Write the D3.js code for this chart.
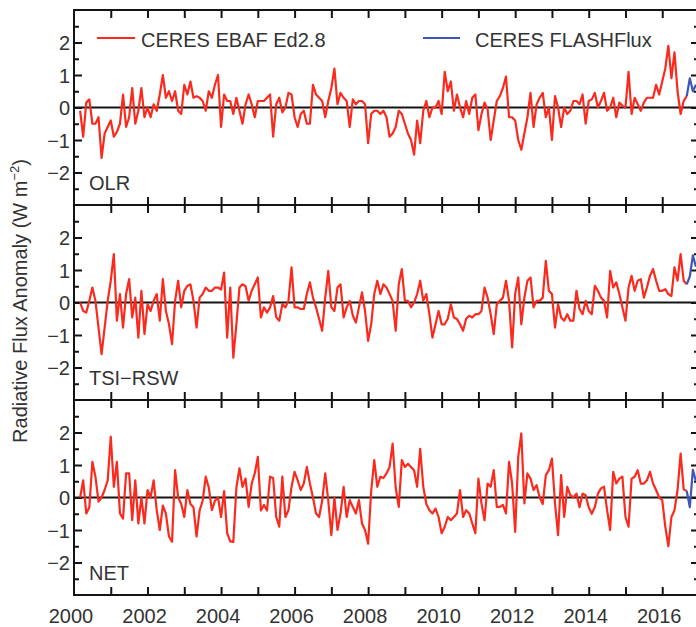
<!DOCTYPE html>
<html><head><meta charset="utf-8">
<script src="https://cdn.jsdelivr.net/npm/d3@7"></script>
<style>
body{margin:0;background:#fff}
svg{display:block}
text{font-family:"Liberation Sans",Arial,Helvetica,sans-serif;fill:#333}
</style>
</head><body>
<svg id="chart" width="696" height="627"></svg>
<script>
// ---- data (monthly anomalies, W m-2) ----
const startYear = 2000;
const ebafStartMonth = 2;      // March 2000 (months counted from Jan 2000)
const flashStartMonth = 200;   // Sept 2016
const panelNames = ["OLR", "TSI\u2212RSW", "NET"];
const seriesNames = ["CERES EBAF Ed2.8", "CERES FLASHFlux"];

const olrEbaf = [
 -0.1,-0.9,0.15,0.25,-0.5,-0.5,-0.3,-1.55,-0.8,-0.6,-0.4,-0.9,-0.75,-0.5,0.4,-0.6,-0.3,0.6,-0.5,-0.1,
 0.6,-0.3,0.0,-0.3,0.1,-0.1,0.4,1.0,0.3,0.5,0.2,0.5,-0.1,-0.2,0.7,0.4,0.8,0.3,0.35,0.3,
 0.2,-0.1,0.5,0.3,0.7,1.0,-0.6,0.4,0.2,0.2,-0.2,0.3,
 -0.1,-0.5,0.1,0.4,0.1,-0.3,0.2,0.2,0.2,0.3,0.4,-0.9,0.1,0.3,-0.15,0.0,0.45,0.4,-0.3,-0.6,
 -0.2,-0.1,-0.5,-0.5,0.7,0.4,0.3,0.2,-0.3,0.2,0.6,1.2,0.1,0.45,0.3,0.2,-0.6,0.25,0.1,0.2,
 0.2,0.1,-1.1,-0.2,-0.1,-0.1,-0.2,-0.1,-0.3,-0.9,-0.8,-0.6,-0.1,-0.2,-0.5,-0.8,-1.0,-1.45,-0.4,-1.1,
 -0.1,0.2,-0.3,0.0,0.0,0.2,-0.2,1.1,0.5,0.8,-0.1,0.4,
 0.0,-0.3,0.2,-0.2,0.3,0.4,-0.7,-0.2,0.15,-0.05,-1.0,-0.4,0.2,0.35,0.6,0.95,-0.3,-0.3,-0.4,-1.0,
 -1.3,-0.8,-0.3,0.45,-0.6,0.1,0.3,0.45,-0.3,0.0,-1.0,0.35,0.0,-0.6,0.0,-0.2,-0.1,0.2,0.2,0.1,
 0.4,-0.5,0.2,0.25,0.45,0.0,0.2,0.45,-0.1,0.0,0.3,-0.3,0.15,0.05,0.0,1.1,-0.2,0.3,0.1,-0.1,
 0.15,0.3,0.3,0.3,0.7,0.4,0.8,1.2,1.9,0.9,1.7,0.5,-0.2,0.2,0.35
];
const tsiEbaf = [
 0,-0.26,-0.31,0.05,0.46,0.05,-0.77,-1.59,-0.77,0.05,0.67,1.49,-0.56,0.26,-0.77,0.26,0.72,-0.46,0.15,-1.08,
 0.36,-0.97,-0.05,-0.26,0.05,0.26,-0.56,0.72,-0.26,-0.67,-1.28,0.05,0.67,-0.15,0.36,0.51,0.56,0.05,-0.77,0.15,
 0.26,0.46,0.36,0.36,0.46,0.46,0.4,0.92,-1.08,0.46,-1.7,-0.67,
 0.46,0.56,0.5,0.05,0.36,0.56,0.77,-0.46,-0.15,-0.31,-0.15,0.2,-0.45,-0.56,-0.05,-0.15,0.05,1.08,-0.15,-0.15,
 -0.2,-0.2,0.26,0.62,0.15,-0.15,-0.51,-0.87,0.15,0.97,-0.15,-0.26,0.46,0.56,-0.46,-0.15,0.05,-0.4,-0.62,-0.15,
 0.31,-0.26,-1.18,-0.67,0.26,0.67,0.26,0.56,0.46,0.26,0.05,-0.87,0.56,1.03,0.05,0.05,-0.15,0.0,0.26,0.67,
 0.05,0.26,-0.36,-1.08,-0.67,-0.26,-0.67,-0.67,-0.5,-0.05,-0.46,-0.51,-0.67,-0.87,-0.5,
 -0.41,-0.46,-0.36,-0.36,-0.26,0.46,0.15,-0.36,-0.97,-0.05,0.05,0.15,0.67,0.05,-1.38,0.26,0.77,-0.67,0.15,0.67,
 0.77,-0.15,0.05,0.05,0.15,1.28,0.36,0.26,-0.77,-0.05,-0.46,-0.56,-0.36,-0.56,-0.56,0.36,-0.2,-0.36,0.05,-0.26,
 -0.36,0.51,0.36,0.15,0.05,-0.46,0.97,0.46,0.62,0.26,-0.15,-0.56,0.46,0.82,0.36,0.67,0.72,0.15,0.46,0.82,
 1.03,0.67,0.36,0.36,0.41,0.26,0.2,1.08,0.67,1.49,0.67,0.56
];
const netEbaf = [
 0,0.53,-0.49,-0.3,1.1,0.64,-0.13,0.0,0.23,0.53,1.87,0.33,1.1,-0.49,-0.65,0.74,0.74,-0.7,0.53,-0.8,
 0.0,-0.8,0.23,0.0,0.53,-0.39,-1.0,-0.25,-0.5,-1.2,-1.36,0.84,0.0,-0.2,-0.6,0.23,-0.2,-0.3,-1.2,-0.4,
 -0.1,0.64,0.3,-0.39,-0.1,0.0,-0.6,0.2,-1.1,-1.35,-1.37,0.3,
 0.9,0.33,0.58,-0.29,0.43,0.74,1.25,-0.4,-0.23,-0.4,0.64,0.6,-0.6,-0.9,0.64,-0.6,-0.39,0.33,0.79,0.53,
 0.23,0.43,0.94,0.43,0.0,-0.49,-0.6,-0.1,0.74,-0.1,-1.16,0.0,-1.0,-0.49,0.33,-0.6,-0.08,-0.29,-0.49,-0.08,
 -0.8,-1.0,-1.42,0.2,1.15,0.33,0.64,0.6,0.74,0.94,1.66,0.3,-0.29,1.15,0.94,1.04,0.94,0.84,0.33,1.5,
 0.33,-0.2,-0.39,-0.49,-0.34,-0.6,-1.1,-0.9,-0.6,-0.7,-0.6,-0.49,0.23,-0.6,-0.39,
 -0.49,-0.8,-1.1,0.58,-0.18,-0.7,0.43,0.33,0.84,-0.29,-0.29,-0.23,-0.49,1.1,0.43,-1.06,1.25,1.97,-0.18,0.74,
 0.58,0.23,0.38,0.0,-0.2,0.69,0.84,1.2,-0.18,-1.16,0.69,-0.6,0.33,0.07,0.0,0.12,-0.3,0.12,0.07,-0.3,
 -0.5,-0.29,0.12,0.28,0.33,-0.39,-1.0,0.79,0.43,0.58,0.64,-0.6,-0.9,0.58,0.64,0.84,0.43,0.43,0.53,0.79,
 0.43,0.23,0.0,-0.08,-0.9,-1.5,-0.6,-0.39,0.23,1.35,0.25,0.2
];
const olrFlash = [0.35, 0.9, 0.5, 0.7];
const tsiFlash = [0.56, 0.8, 1.45, 1.1];
const netFlash = [0.2, -0.3, 0.85, 0.5];

const yMajorTicks = [-2, -1, 0, 1, 2];
const yMinorTicks = [-2.5, -1.5, -0.5, 0.5, 1.5, 2.5];
const xTickYears = d3.range(2001, 2017);
const xLabelYears = [2000, 2002, 2004, 2006, 2008, 2010, 2012, 2014, 2016];

// ---- layout ----
const svg = d3.select("#chart");
const plotLeft = 74, plotRight = 699;
const panelTops = [10, 205, 400], panelH = 195;
const red = "#fa2a1e", blue = "#3d57b8", ink = "#141414";

const x = d3.scaleLinear().domain([2000, 2017]).range([plotLeft, plotRight]);
const toYear = m => startYear + m / 12;

svg.append("defs").append("clipPath").attr("id", "clip")
  .append("rect").attr("x", plotLeft).attr("y", 0).attr("width", plotRight - plotLeft).attr("height", 627);

const panels = [
  {name: panelNames[0], ebaf: olrEbaf, flash: olrFlash},
  {name: panelNames[1], ebaf: tsiEbaf, flash: tsiFlash},
  {name: panelNames[2], ebaf: netEbaf, flash: netFlash}
];

panels.forEach((p, i) => {
  const top = panelTops[i], bottom = top + panelH;
  const y = d3.scaleLinear().domain([-3, 3]).range([bottom, top]);
  const g = svg.append("g");

  // ticks: left (major with labels, minor), right, top, bottom
  const styleAxis = a => { a.select(".domain").remove(); a.selectAll("line").attr("stroke", ink).attr("stroke-width", 2); };
  g.append("g").attr("transform", `translate(${plotLeft},0)`)
    .call(d3.axisLeft(y).tickValues(yMajorTicks).tickSize(-8).tickPadding(4).tickFormat(d3.format("d")))
    .call(styleAxis)
    .call(a => a.selectAll("text").attr("font-size", 20).attr("fill", "#333").attr("font-family", null).attr("dy", "0.36em"));
  g.append("g").attr("transform", `translate(${plotLeft},0)`)
    .call(d3.axisLeft(y).tickValues(yMinorTicks).tickSize(-5).tickFormat(""))
    .call(styleAxis);
  g.append("g").attr("transform", `translate(${plotRight},0)`)
    .call(d3.axisRight(y).tickValues(yMajorTicks).tickSize(-8).tickFormat(""))
    .call(styleAxis);
  g.append("g").attr("transform", `translate(${plotRight},0)`)
    .call(d3.axisRight(y).tickValues(yMinorTicks).tickSize(-5).tickFormat(""))
    .call(styleAxis);
  g.append("g").attr("transform", `translate(0,${top})`)
    .call(d3.axisTop(x).tickValues(xTickYears).tickSize(-8).tickFormat(""))
    .call(styleAxis);
  g.append("g").attr("transform", `translate(0,${bottom})`)
    .call(d3.axisBottom(x).tickValues(xTickYears).tickSize(-8).tickFormat(""))
    .call(styleAxis);

  // zero line
  g.append("line").attr("x1", plotLeft).attr("x2", plotRight).attr("y1", y(0)).attr("y2", y(0))
    .attr("stroke", ink).attr("stroke-width", 2);

  const line = d3.line().x(d => x(d[0])).y(d => y(d[1])).curve(d3.curveLinear);
  const ebafPts = p.ebaf.map((v, k) => [toYear(ebafStartMonth + k), v]);
  const flashPts = p.flash.map((v, k) => [toYear(flashStartMonth + k), v]);
  g.append("path").datum(ebafPts).attr("d", line).attr("fill", "none")
    .attr("stroke", red).attr("stroke-width", 2.2).attr("stroke-linejoin", "round").attr("clip-path", "url(#clip)");
  g.append("path").datum(flashPts).attr("d", line).attr("fill", "none")
    .attr("stroke", blue).attr("stroke-width", 2.2).attr("stroke-linejoin", "round").attr("clip-path", "url(#clip)");

  // frame
  g.append("rect").attr("x", plotLeft).attr("y", top).attr("width", plotRight - plotLeft).attr("height", panelH)
    .attr("fill", "none").attr("stroke", ink).attr("stroke-width", 2);

  // panel label
  g.append("text").attr("x", 89).attr("y", bottom - 15).attr("font-size", 20).text(p.name);
});

// x labels on the bottom panel
svg.append("g").selectAll("text").data(xLabelYears).join("text")
  .attr("x", d => x(d) - 3).attr("y", 623).attr("text-anchor", "middle").attr("font-size", 20)
  .text(d => d);

// legend
const legend = svg.append("g");
legend.append("line").attr("x1", 97).attr("x2", 135).attr("y1", 38).attr("y2", 38).attr("stroke", red).attr("stroke-width", 2.2);
legend.append("text").attr("x", 141).attr("y", 46.5).attr("font-size", 20).text(seriesNames[0]);
legend.append("line").attr("x1", 423).attr("x2", 460).attr("y1", 38).attr("y2", 38).attr("stroke", blue).attr("stroke-width", 2.2);
legend.append("text").attr("x", 475).attr("y", 46.5).attr("font-size", 20).text(seriesNames[1]);

// y-axis title
const title = svg.append("text").attr("transform", "translate(27,301) rotate(-90)")
  .attr("text-anchor", "middle").attr("font-size", 20);
title.append("tspan").text("Radiative Flux Anomaly (W m");
title.append("tspan").attr("font-size", 13).attr("dy", -8).text("\u22122");
title.append("tspan").attr("dy", 8).text(")");
</script>
</body></html>
